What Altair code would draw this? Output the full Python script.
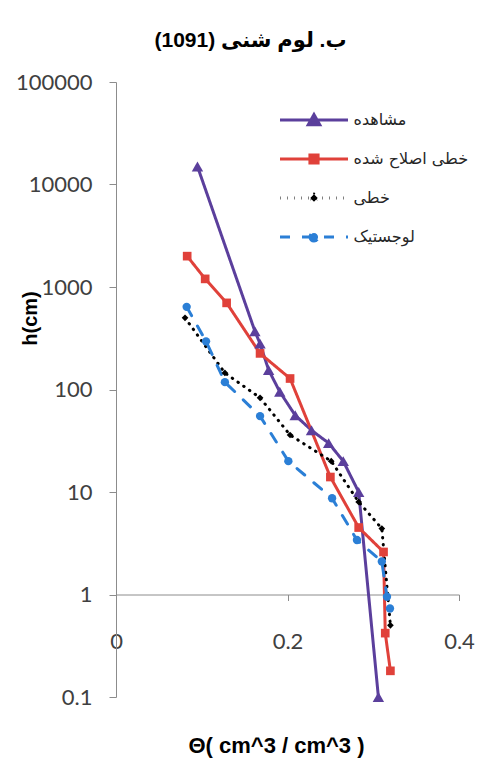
import altair as alt
import pandas as pd

series_names = ["مشاهده", "خطی اصلاح شده", "خطی", "لوجستیک"]

observed_theta = [0.095, 0.162, 0.168, 0.178, 0.191, 0.209, 0.228, 0.248, 0.265, 0.283, 0.306]
observed_h = [15000, 370, 280, 155, 95, 56, 40, 30, 20, 10, 0.1]

modified_theta = [0.083, 0.104, 0.129, 0.168, 0.203, 0.250, 0.283, 0.312, 0.314, 0.320]
modified_h = [2000, 1200, 700, 225, 128, 14, 4.5, 2.6, 0.42, 0.18]

linear_theta = [0.0805, 0.127, 0.168, 0.203, 0.251, 0.283, 0.310, 0.320]
linear_h = [500, 145, 83, 36, 20, 8, 4.4, 0.5]

logistic_theta = [0.0824, 0.105, 0.127, 0.168, 0.201, 0.252, 0.281, 0.310, 0.316, 0.3195]
logistic_h = [640, 295, 118, 55, 20, 8.7, 3.4, 2.1, 0.95, 0.73]

y_ticks = [0.1, 1, 10, 100, 1000, 10000, 100000]
x_ticks = [0, 0.2, 0.4]

colors = ["#5B3F9C", "#E0413A", "#000000", "#2B7FD6"]
marker_shapes = ["triangle-up", "square", "diamond", "circle"]
marker_sizes = [130, 75, 45, 70]
line_dashes = [[1, 0], [1, 0], [0.5, 6.5], [10, 12]]
legend_paths = [
    "M-1,0H1M0,-0.16L0.17,0.14L-0.17,0.14Z",
    "M-1,0H1M-0.12,-0.12H0.12V0.12H-0.12Z",
    "M-1,0H1M0,-0.11L0.11,0L0,0.11L-0.11,0Z",
    "M-1,0H1M-0.12,0A0.12,0.12,0,1,0,0.12,0A0.12,0.12,0,1,0,-0.12,0Z",
]

rows = []
for name, thetas, hs in zip(
    series_names,
    [observed_theta, modified_theta, linear_theta, logistic_theta],
    [observed_h, modified_h, linear_h, logistic_h],
):
    for i, (t, h) in enumerate(zip(thetas, hs)):
        rows.append({"series": name, "theta": t, "h": h, "order": i})
df = pd.DataFrame(rows)

axis_gray = "#8c8c8c"

x_enc = alt.X(
    "theta:Q",
    scale=alt.Scale(domain=[0, 0.4], nice=False, zero=False),
    axis=alt.Axis(
        values=x_ticks, format="~r", offset=-102.5, labelFlush=False,
        tickSize=6, labelPadding=41, labelBaseline="middle",
        labelFont="Lato", labelFontSize=22, labelColor="#404040",
        domainColor=axis_gray, tickColor=axis_gray, grid=False,
        title="Θ( cm^3 / cm^3 )", titleFont="Liberation Sans", titleFontSize=22,
        titleFontWeight="bold", titleColor="#000000",
        titleX=160, titleY=151, titleBaseline="middle", titleAlign="center",
    ),
)
y_enc = alt.Y(
    "h:Q",
    scale=alt.Scale(type="log", domain=[0.1, 100000], nice=False),
    axis=alt.Axis(
        values=y_ticks, format="~r", labelFlush=False,
        tickSize=7, labelPadding=17,
        labelFont="Lato", labelFontSize=22, labelColor="#404040",
        domainColor=axis_gray, tickColor=axis_gray, grid=False,
        title="h(cm)", titleFont="Liberation Sans", titleFontSize=20,
        titleFontWeight="bold", titleColor="#000000", titleAngle=270,
        titleX=-86, titleY=236, titleAlign="center", titleBaseline="middle",
    ),
)

stroke_scale = alt.Scale(domain=series_names, range=colors)
fill_scale = alt.Scale(domain=series_names, range=colors)
dash_scale = alt.Scale(domain=series_names, range=line_dashes)
legend_shape_scale = alt.Scale(domain=series_names, range=legend_paths)

legend = alt.Legend(
    title=None, orient="none", legendX=162.5, legendY=18.5, padding=0,
    rowPadding=0, clipHeight=39, symbolSize=4624, symbolStrokeWidth=3,
    symbolFillColor="#000000", symbolStrokeColor="#000000",
    labelOffset=4, labelFont="DejaVu Sans", labelFontSize=16, labelColor="#262626",
    labelLimit=0,
)

lines = alt.Chart(df).mark_line(strokeWidth=3, strokeCap="round").encode(
    x=x_enc,
    y=y_enc,
    stroke=alt.Stroke("series:N", scale=stroke_scale, legend=legend),
    strokeDash=alt.StrokeDash("series:N", scale=dash_scale, legend=legend),
    order="order:Q",
)

point_layers = []
for name, col, shp, sz in zip(series_names, colors, marker_shapes, marker_sizes):
    point_layers.append(
        alt.Chart(df)
        .transform_filter(alt.datum.series == name)
        .mark_point(filled=True, opacity=1, shape=shp, size=sz, color=col)
        .encode(x=x_enc, y=y_enc)
    )

legend_layer = (
    alt.Chart(df)
    .transform_filter("false")
    .mark_point(filled=True, opacity=1, strokeWidth=3, strokeCap="round")
    .encode(
        x=x_enc,
        y=y_enc,
        fill=alt.Fill("series:N", scale=fill_scale, legend=legend),
        stroke=alt.Stroke("series:N", scale=stroke_scale, legend=legend),
        strokeDash=alt.StrokeDash("series:N", scale=dash_scale, legend=legend),
        shape=alt.Shape("series:N", scale=legend_shape_scale, legend=legend),
    )
)

chart = (
    alt.layer(lines, *point_layers, legend_layer)
    .properties(
        width=343,
        height=615,
        padding={"left": 108, "top": 74, "right": 31, "bottom": 62},
        autosize=alt.AutoSizeParams(type="none"),
        title=alt.TitleParams(
            "(1091) ب. لوم شنی",
            font="Liberation Sans, DejaVu Sans", fontSize=21, fontWeight="bold",
            color="#000000", anchor="middle", frame="group", dx=-37, offset=20,
        ),
    )
    .configure_view(stroke=None)
)

chart.save("out.html", embed_options={"renderer": "svg", "actions": False})
